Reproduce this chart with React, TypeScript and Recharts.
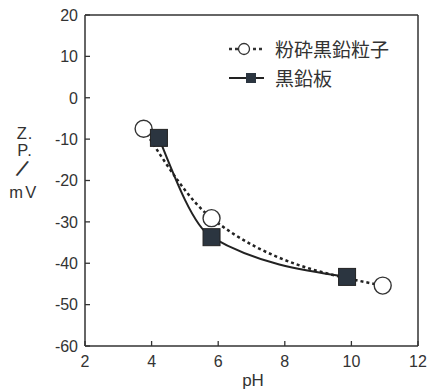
import React from 'react';
import { LineChart, Line, XAxis, YAxis, ReferenceLine } from 'recharts';

const seriesNames = ['粉砕黒鉛粒子', '黒鉛板'];
const particlePH = [3.76, 5.8, 10.94];
const particleZP = [-7.5, -29.1, -45.4];
const platePH = [4.22, 5.8, 9.87];
const plateZP = [-9.7, -33.7, -43.3];
const xTicks = [2, 4, 6, 8, 10, 12];
const yTicks = [-60, -50, -40, -30, -20, -10, 0, 10, 20];

const particleData = particlePH.map((x, i) => ({ x, y: particleZP[i] }));
const plateData = platePH.map((x, i) => ({ x, y: plateZP[i] }));

const INK = '#333';
const FONT = '"Liberation Sans", Arial, sans-serif';
const CJK = '"Noto Sans CJK JP", "Noto Sans", sans-serif';

const YTick = (props: any) => {
  const { x, y, payload } = props;
  return (
    <g>
      <line x1={x + 7} x2={x + 12} y1={y} y2={y} stroke={INK} strokeWidth={1.3} />
      <text x={x} y={y} dy="0.36em" textAnchor="end" fontSize={16} fontFamily={FONT} fill={INK}>
        {payload.value}
      </text>
    </g>
  );
};

const XTick = (props: any) => {
  const { x, y, payload } = props;
  return (
    <g>
      <line x1={x} x2={x} y1={y - 9} y2={y - 14} stroke={INK} strokeWidth={1.3} />
      <text x={x} y={y} dy="0.72em" textAnchor="middle" fontSize={16} fontFamily={FONT} fill={INK}>
        {payload.value}
      </text>
    </g>
  );
};

const CircleDot = (props: any) => {
  const { cx, cy } = props;
  if (cx == null || cy == null) return null;
  return <circle cx={cx} cy={cy} r={8.5} fill="#fff" stroke={INK} strokeWidth={1.4} />;
};

const SquareDot = (props: any) => {
  const { cx, cy } = props;
  if (cx == null || cy == null) return null;
  return <rect x={cx - 8.5} y={cy - 8.5} width={17} height={17} fill="#2b3540" stroke="#222" strokeWidth={1} />;
};

const YLabel = () => (
  <g fontFamily={FONT} fill={INK}>
    <text x={25} y={139} textAnchor="middle" fontSize={16.5} letterSpacing={1}>Z.</text>
    <text x={25} y={156} textAnchor="middle" fontSize={16.5} letterSpacing={1}>P.</text>
    <text x={22} y={177} textAnchor="middle" fontSize={24} transform="rotate(24 22 169)">/</text>
    <text x={24} y={198} textAnchor="middle" fontSize={16.5} letterSpacing={2.5}>mV</text>
  </g>
);

const XLabel = () => (
  <text x={253} y={386} textAnchor="middle" fontSize={17} fontFamily={FONT} fill={INK}>pH</text>
);

const LegendBox = () => (
  <div style={{ position: 'absolute', left: 228, top: 34, fontFamily: CJK, color: INK }}>
    <div style={{ display: 'flex', alignItems: 'center', height: 29 }}>
      <svg width={47} height={20} style={{ display: 'block' }}>
        <line x1={1} x2={34} y1={10} y2={10} stroke={INK} strokeWidth={2.5} strokeDasharray="3 3" />
        <circle cx={16} cy={10} r={5.5} fill="#fff" stroke={INK} strokeWidth={1.3} />
      </svg>
      <span style={{ fontSize: 19, lineHeight: '29px' }}>{seriesNames[0]}</span>
    </div>
    <div style={{ display: 'flex', alignItems: 'center', height: 29 }}>
      <svg width={47} height={20} style={{ display: 'block' }}>
        <line x1={1} x2={36} y1={10} y2={10} stroke="#222" strokeWidth={2} />
        <rect x={18} y={5} width={10} height={10} fill="#2b3540" />
      </svg>
      <span style={{ fontSize: 19, lineHeight: '29px' }}>{seriesNames[1]}</span>
    </div>
  </div>
);

export default function App() {
  return (
    <div style={{ position: 'absolute', left: 0, top: 0, width: 427, height: 392, background: '#fff' }}>
      <LineChart width={427} height={392} margin={{ top: 15, right: 9, bottom: 0, left: 0 }}>
        <XAxis
          type="number"
          dataKey="x"
          domain={[2, 12]}
          ticks={xTicks}
          height={46}
          tickSize={0}
          tickMargin={9}
          tick={<XTick />}
          axisLine={{ stroke: INK, strokeWidth: 1.5 }}
          tickLine={false}
          allowDataOverflow
          label={{ content: () => <XLabel /> }}
        />
        <YAxis
          type="number"
          dataKey="y"
          domain={[-60, 20]}
          ticks={yTicks}
          width={85}
          tickSize={0}
          tickMargin={7}
          tick={<YTick />}
          axisLine={{ stroke: INK, strokeWidth: 1.5 }}
          tickLine={false}
          allowDataOverflow
          label={{ content: () => <YLabel /> }}
        />
        <ReferenceLine y={20} stroke={INK} strokeWidth={1.5} />
        <ReferenceLine x={12} stroke={INK} strokeWidth={1.5} />
        <Line
          data={particleData}
          dataKey="y"
          name={seriesNames[0]}
          type="monotone"
          stroke="#222"
          strokeWidth={2.5}
          strokeDasharray="3 3"
          dot={<CircleDot />}
          activeDot={false}
          isAnimationActive={false}
        />
        <Line
          data={plateData}
          dataKey="y"
          name={seriesNames[1]}
          type="monotone"
          stroke="#222"
          strokeWidth={2}
          dot={<SquareDot />}
          activeDot={false}
          isAnimationActive={false}
        />
      </LineChart>
      <LegendBox />
    </div>
  );
}
